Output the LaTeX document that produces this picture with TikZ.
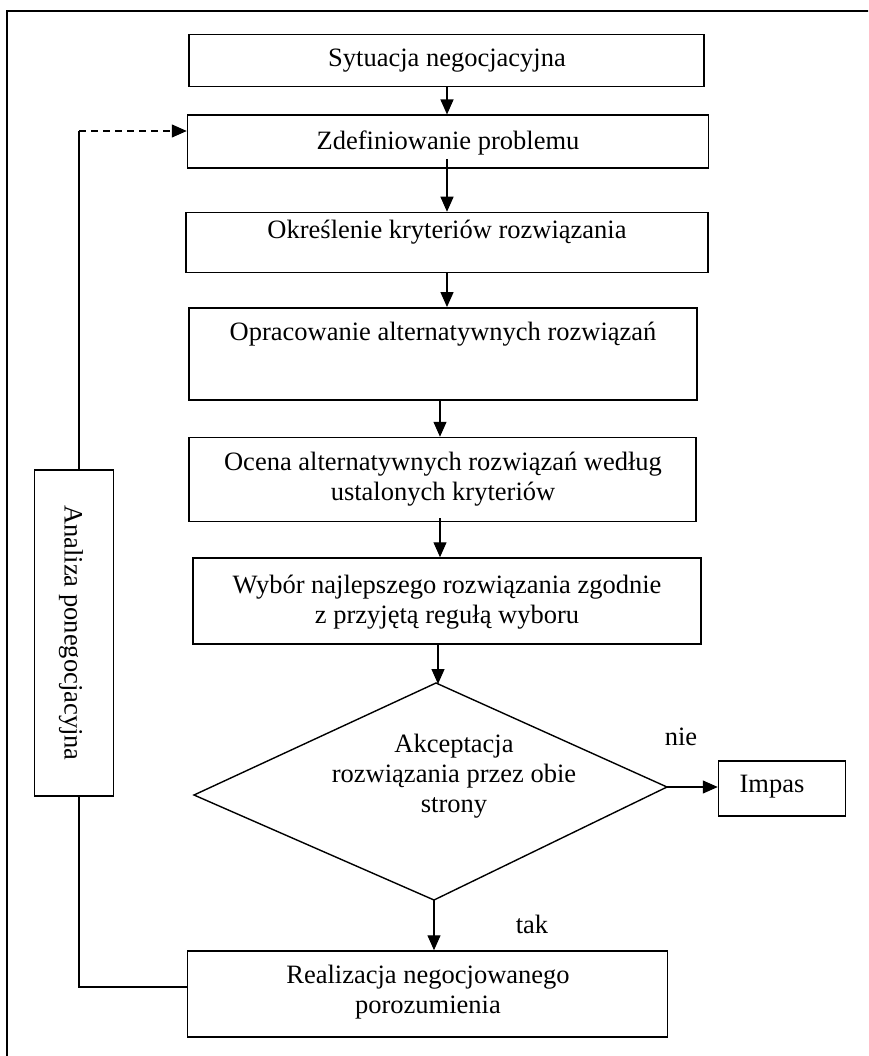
\documentclass[tikz,border=0pt]{standalone}
\usepackage{fontspec}
\setmainfont{Liberation Serif}
\usetikzlibrary{arrows.meta,shapes.geometric}
\begin{document}
\begin{tikzpicture}[x=1pt,y=-1pt,
  box/.style={draw,line width=1.5pt,inner sep=0pt},
  txt/.style={align=center,inner sep=0pt,font=\fontsize{26.5}{30}\selectfont},
  conn/.style={line width=1.3pt,-{Triangle[length=15pt,width=13pt]}},
  plain/.style={line width=1.3pt}]
\useasboundingbox (0,0) rectangle (868,1056);
\begin{scope}
\clip (0,0) rectangle (868,1056);
\draw[line width=2pt] (7,11) rectangle (880,1070);
\end{scope}
% boxes
\node[box,minimum width=515pt,minimum height=52pt] (b1) at (446.5,60.5) {};
\node[txt] at (447,61) {Sytuacja negocjacyjna};
\node[box,minimum width=521pt,minimum height=53pt] (b2) at (448,141.7) {};
\node[txt] at (448,143) {Zdefiniowanie problemu};
\node[box,minimum width=522pt,minimum height=60pt] (b3) at (447,242.5) {};
\node[txt] at (447,232) {Określenie kryteriów rozwiązania};
\node[box,minimum width=508pt,minimum height=92pt] (b4) at (443,353.8) {};
\node[txt] at (443,334) {Opracowanie alternatywnych rozwiązań};
\node[box,minimum width=507pt,minimum height=84pt] (b5) at (442.6,479.5) {};
\node[txt] at (443,479) {Ocena alternatywnych rozwiązań według\\ustalonych kryteriów};
\node[box,minimum width=508pt,minimum height=86pt] (b6) at (446.8,601) {};
\node[txt] at (447,602) {Wybór najlepszego rozwiązania zgodnie\\z przyjętą regułą wyboru};
% decision diamond
\coordinate (dt) at (436,683);
\coordinate (dr) at (667,787);
\coordinate (db) at (434,900);
\coordinate (dl) at (194,795);
\draw[line width=1.4pt,line join=miter] (dt) -- (dr) -- (db) -- (dl) -- cycle;
\node[txt] (dtext) at (454,776) {Akceptacja\\rozwiązania przez obie\\strony};
\node[box,minimum width=127pt,minimum height=55pt] (imp) at (782,788.5) {};
\node[txt] at (772,787) {Impas};
\node[box,minimum width=480pt,minimum height=86pt] (b7) at (427.5,994) {};
\node[txt] at (428,992) {Realizacja negocjowanego\\porozumienia};
\node[box,minimum width=79pt,minimum height=326pt] (an) at (73.8,633) {};
\node[txt,rotate=-90] at (71,633) {Analiza ponegocjacyjna};
% labels
\node[txt] (nie) at (681,737) {nie};
\node[txt] (tak) at (532,924) {tak};
% connectors
\draw[conn] (b1.south -| 447,0) -- (b2.north -| 447,0);
\draw[conn] ([yshift=10pt]b2.south -| 447,0) -- (b3.north -| 447,0);
\draw[conn] (b3.south -| 447,0) -- (b4.north -| 447,0);
\draw[conn] (b4.south -| 440,0) -- (b5.north -| 440,0);
\draw[conn] ([yshift=4pt]b5.south -| 440,0) -- (b6.north -| 440,0);
\draw[conn] (b6.south -| 438,0) -- (438,684);
\draw[conn] (dr) -- (imp.west |- dr);
\draw[conn] (db) -- (b7.north -| db);
\coordinate (ltop) at (79,131);
\coordinate (lbot) at (79,987);
\draw[plain] (an.north -| ltop) -- (ltop);
\draw[conn,dash pattern=on 7pt off 5pt] (ltop) -- (b2.west |- ltop);
\draw[plain] (an.south -| lbot) -- (lbot) -- (b7.west |- lbot);
\end{tikzpicture}
\end{document}
